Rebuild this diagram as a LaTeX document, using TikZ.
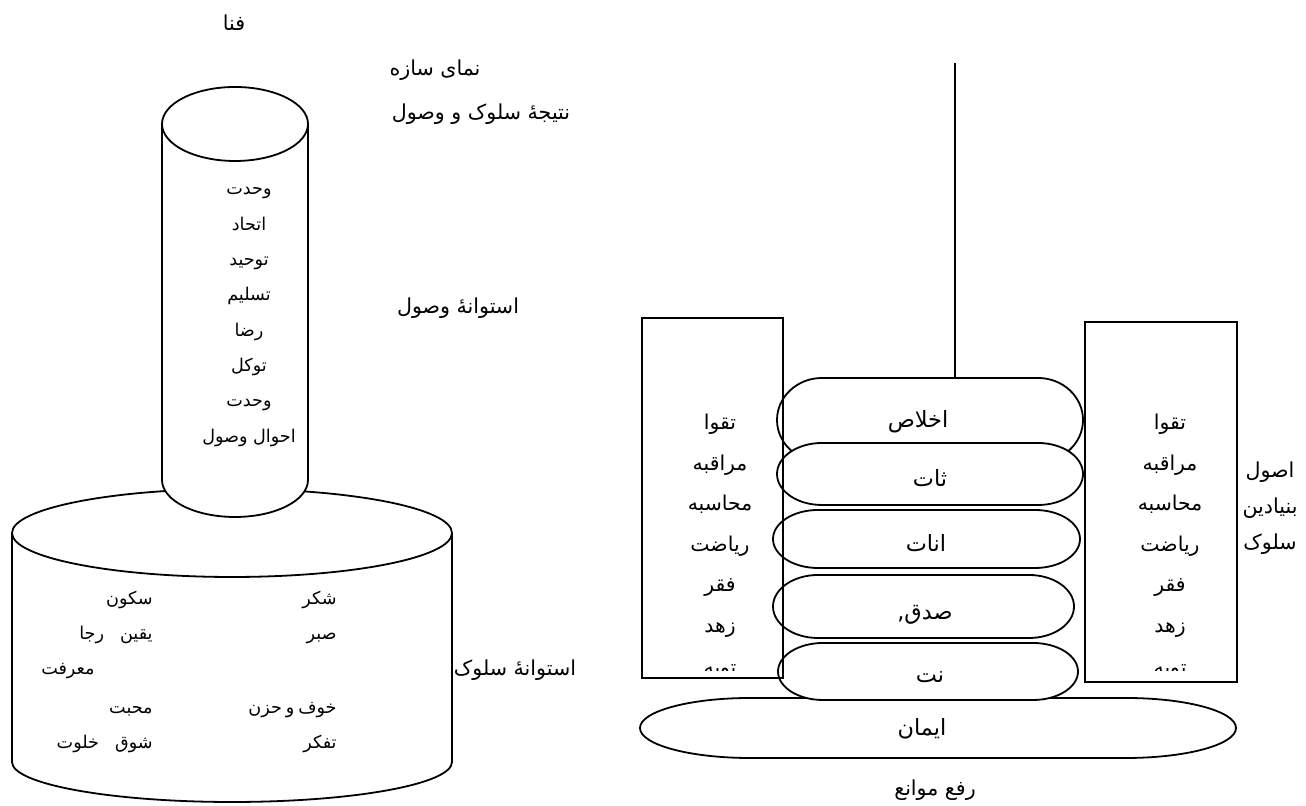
\documentclass[tikz,border=0pt]{standalone}
\usepackage{fontspec}
\newfontfamily\fa[Script=Arabic]{DejaVu Sans}
\TeXXeTstate=1
\newcommand{\fatext}[1]{\beginR#1\endR}
% pill shape: left x, right x, top y, bottom y, end radius
\newcommand{\pillshape}[5]{%
  \draw[outl,fill=white] ({#1+#5},#3) -- ({#2-#5},#3)
    arc[start angle=90,end angle=-90,x radius=#5,y radius={(#3-#4)/2}]
    -- ({#1+#5},#4)
    arc[start angle=270,end angle=90,x radius=#5,y radius={(#3-#4)/2}] -- cycle;}
\tikzset{
  outl/.style={line width=0.9pt},
  lbl/.style={font=\fa\fontsize{10.3}{12}\selectfont,inner sep=0pt},
  word/.style={font=\fa\fontsize{8.8}{10}\selectfont,inner sep=0pt,anchor=base},
  boxword/.style={font=\fa\fontsize{10.2}{12}\selectfont,inner sep=0pt,anchor=base},
  pillword/.style={font=\fa\fontsize{11.2}{13}\selectfont,inner sep=0pt,anchor=base},
}
\begin{document}
\begin{tikzpicture}[x=0.5pt,y=0.5pt]
	\useasboundingbox (0,0) rectangle (1306,806);
	% Base cylinder (suluk)
	\draw[outl] (12,273) -- (12,44) arc[start angle=180,end angle=360,x radius=220,y radius=40] -- (452,273);
	\draw[outl] (232,273) ellipse[x radius=220,y radius=44];
	% Column cylinder (wusul)
	\draw[outl,fill=white] (162,682) -- (162,326) arc[start angle=180,end angle=360,x radius=73,y radius=37] -- (308,682) -- cycle;
	\draw[outl,fill=white] (235,682) ellipse[x radius=73,y radius=37];
	% Labels left
	\node[lbl] (fana) at (234,783) {\fatext{فنا}};
	\node[lbl] (nama) at (435,736) {\fatext{نمای سازه}};
	\node[lbl] (natija) at (481,692) {\fatext{نتیجهٔ سلوک و وصول}};
	\node[lbl] (ustwusul) at (458,498) {\fatext{استوانهٔ وصول}};
	\node[lbl] (ustsuluk) at (515,136) {\fatext{استوانهٔ سلوک}};
	% Words in column
	\foreach \w [count=\i] in {وحدت,اتحاد,توحید,تسلیم,رضا,توکل,وحدت,احوال وصول}
		\node[word] (vsl-\i) at (249,{646.3-35.3*\i}) {\fatext{\w}};
	% Words in base
	\node[word,anchor=base east] (skn) at (153,201) {\fatext{سکون}};
	\node[word,anchor=base east] (yqn) at (153,166) {\fatext{یقین\hspace{8pt}رجا}};
	\node[word,anchor=base east] (mrf) at (95,131) {\fatext{معرفت}};
	\node[word,anchor=base east] (mhb) at (153,92) {\fatext{محبت}};
	\node[word,anchor=base east] (shq) at (153,57) {\fatext{شوق\hspace{8pt}خلوت}};
	\node[word,anchor=base east] (shk) at (337,201) {\fatext{شکر}};
	\node[word,anchor=base east] (sbr) at (337,166) {\fatext{صبر}};
	\node[word,anchor=base east] (khf) at (337,92) {\fatext{خوف\hspace{2pt}و\hspace{2pt}حزن}};
	\node[word,anchor=base east] (tfk) at (337,57) {\fatext{تفکر}};
	% Stack of pills
	\coordinate (linetop) at (955,743);
	\coordinate (ikhtop) at (955,428);
	\draw[outl] (linetop) -- (ikhtop);
	\pillshape{640}{1236}{108}{48}{110}
	\pillshape{777}{1083}{428}{344}{45}
	\pillshape{777}{1083}{363}{301}{45}
	\pillshape{773}{1080}{296}{238}{45}
	\pillshape{773}{1074}{231}{168}{45}
	\pillshape{778}{1078}{163}{106}{45}
	\node[pillword] (iman) at (922,70) {\fatext{ایمان}};
	\node[pillword] (ikh) at (918,378) {\fatext{اخلاص}};
	\node[pillword] (sbt) at (930,319) {\fatext{ثات}};
	\node[pillword] (amt) at (926,254) {\fatext{انات}};
	\node[pillword] (sdq) at (925,186) {\fatext{صدق,}};
	\node[pillword] (nyt) at (930,123) {\fatext{نت}};
	\node[lbl] (rafe) at (935,16) {\fatext{رفع موانع}};
	% Side boxes
	\draw[outl] (642,128) rectangle (783,488);
	\draw[outl] (1085,124) rectangle (1237,484);
	\foreach \w [count=\i] in {تقوا,مراقبه,محاسبه,ریاضت,فقر,زهد} {
		\node[boxword] (lft-\i) at (720,{416.5-40.5*\i}) {\fatext{\w}};
		\node[boxword] (rgt-\i) at (1170,{416.5-40.5*\i}) {\fatext{\w}};
	}
	\begin{scope}
		\clip (642,135) rectangle (1237,488);
		\node[boxword] (lft-7) at (720,131) {\fatext{توبه}};
		\node[boxword] (rgt-7) at (1170,131) {\fatext{توبه}};
	\end{scope}
	\node[lbl] (usul-1) at (1270,334) {\fatext{اصول}};
	\node[lbl] (usul-2) at (1270,298) {\fatext{بنیادین}};
	\node[lbl] (usul-3) at (1270,262) {\fatext{سلوک}};
\end{tikzpicture}
\end{document}
